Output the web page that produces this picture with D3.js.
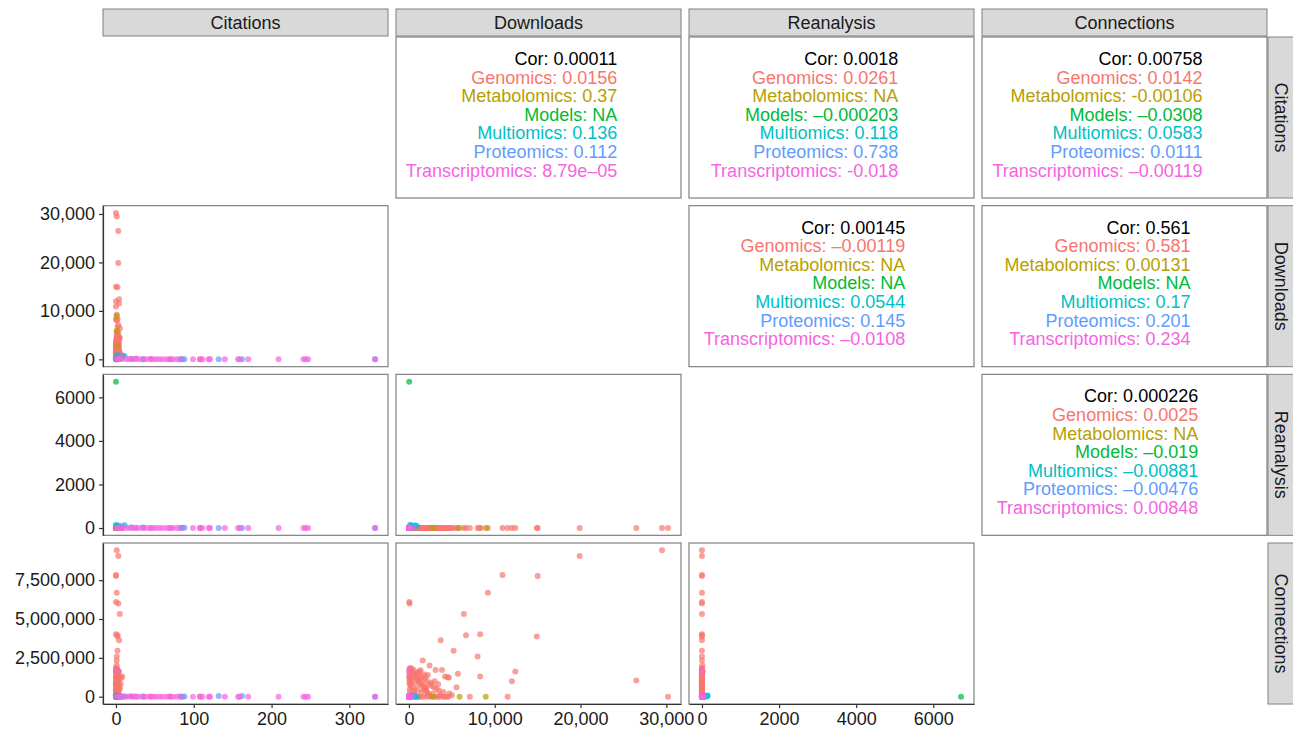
<!DOCTYPE html>
<html>
<head>
<meta charset="utf-8">
<script src="https://cdn.jsdelivr.net/npm/d3@7"></script>
<style>
  body { margin: 0; background: #fff; }
  svg text { font-family: "Liberation Sans", Arial, Helvetica, sans-serif; }
</style>
</head>
<body>
<div id="chart"></div>
<script>
// variables shown in the matrix
const variables = ['Citations', 'Downloads', 'Reanalysis', 'Connections'];
const groups = ['Genomics', 'Metabolomics', 'Models', 'Multiomics', 'Proteomics', 'Transcriptomics'];
const groupColors = ['#F8766D', '#B79F00', '#00BA38', '#00BFC4', '#619CFF', '#F564E3'];

// each record: [citations, downloads, reanalysis, connections]
const genomics = [
  [0, 30200, 0, 0], [1, 29500, 0, 9420000], [3, 26500, 0, 1050000], [3, 19900, 0, 9060000],
  [0, 15000, 0, 7760000], [2, 14900, 0, 3870000], [4, 12400, 0, 1620000], [4, 11500, 0, 0],
  [0, 10900, 0, 7840000], [1, 9200, 0, 6690000], [0, 8300, 0, 4020000], [2, 8300, 0, 1300000],
  [1, 8000, 0, 2580000], [3, 7100, 0, 0], [2, 6650, 0, 3950000], [5, 6400, 0, 5320000],
  [1, 5700, 0, 1470000], [3, 5550, 0, 600000], [2, 5200, 0, 2950000], [1, 4650, 0, 1240000],
  [4, 3700, 0, 3630000], [2, 3850, 0, 1710000], [0, 3100, 0, 1710000], [0, 40, 0, 6090000],
  [3, 60, 0, 6000000], [1, 1600, 0, 2330000], [0, 200, 0, 1850000], [1, 500, 0, 1750000],
  [2, 900, 0, 1500000], [0, 1300, 0, 1300000], [1, 1800, 0, 1100000], [2, 2200, 0, 1400000],
  [3, 2600, 0, 900000], [1, 3000, 0, 1000000], [0, 3400, 0, 800000], [2, 4200, 0, 1300000],
  [4, 4500, 0, 1250000], [1, 1000, 0, 700000], [0, 600, 0, 400000], [2, 1500, 0, 300000],
  [3, 2000, 0, 500000], [1, 2800, 0, 200000], [0, 3600, 0, 100000], [5, 4400, 0, 0],
  [2, 3900, 0, 0], [1, 3300, 0, 0], [0, 2500, 0, 0], [3, 1700, 0, 0], [6, 1200, 0, 0],
  [8, 800, 0, 0], [4, 300, 0, 0], [7, 100, 0, 1200000], [3, 700, 0, 1000000],
  [0, 1900, 0, 600000], [25, 50, 0, 20000], [69, 30, 0, 10000], [108, 20, 0, 5000],
  [45, 80, 0, 15000], [1, 2400, 10, 2000000], [2, 1100, 20, 1600000], [0, 12000, 0, 1000000],
  [0, 150, 0, 1780000], [1, 350, 0, 1650000], [0, 450, 0, 1550000], [2, 650, 0, 1450000],
  [1, 750, 0, 1350000], [0, 850, 0, 1250000], [3, 950, 0, 1150000], [1, 1150, 0, 1050000],
  [2, 1250, 0, 950000], [0, 1400, 0, 850000], [1, 1550, 0, 750000], [4, 1650, 0, 650000],
  [2, 1750, 0, 550000], [0, 1850, 0, 450000], [1, 2050, 0, 350000], [3, 2150, 0, 250000],
  [0, 2300, 0, 150000], [2, 2450, 0, 50000], [1, 250, 0, 1250000], [0, 350, 0, 900000],
  [2, 450, 0, 600000], [1, 550, 0, 300000], [0, 700, 0, 100000], [3, 1050, 0, 400000],
  [1, 1200, 0, 1600000], [2, 1350, 0, 1700000], [0, 1450, 0, 1200000], [1, 1700, 0, 1450000],
  [3, 1950, 0, 1300000], [2, 2100, 0, 1000000], [0, 2350, 0, 800000], [1, 2600, 0, 700000],
  [4, 2900, 0, 600000], [2, 3200, 0, 500000], [1, 3500, 0, 400000], [0, 4000, 0, 300000],
  [3, 4700, 0, 200000], [1, 5000, 0, 100000], [5, 100, 0, 500000], [6, 150, 0, 800000],
  [2, 50, 0, 1100000], [1, 80, 0, 1400000], [0, 120, 0, 300000], [3, 180, 0, 700000],
  [8, 400, 0, 1300000], [2, 4100, 0, 0], [1, 4600, 0, 0], [3, 3500, 0, 0], [0, 2900, 0, 0],
  [4, 2100, 0, 0], [2, 1400, 0, 0], [1, 950, 0, 0], [0, 600, 0, 0], [5, 150, 0, 0],
  [1, 50, 0, 1800000], [0, 30, 0, 1600000], [1, 20, 0, 1300000], [2, 40, 0, 900000]
];
const metabolomics = [[1, 8950, 0, 0], [1, 5900, 0, 0], [3, 200, 0, 0], [2, 2800, 0, 0]];
const models = [[0, 30, 6720, 0], [1, 80, 30, 0], [0, 150, 50, 10000]];
const multiomics = [
  [11, 700, 130, 15000], [4, 300, 100, 60000], [2, 900, 90, 20000],
  [35, 40, 20, 5000], [85, 20, 10, 3000], [0, 150, 150, 80000]
];
const proteomics = [
  [82, 10, 5, 10000], [88, 30, 10, 20000], [132, 5, 0, 45000], [162, 10, 0, 40000],
  [333, 0, 0, 0], [20, 100, 30, 30000], [6, 600, 80, 50000]
];
const transcriptomics = [
  [0, 50, 0, 0], [2, 60, 10, 1650000], [4, 100, 0, 20000], [8, 200, 5, 10000], [13, 30, 0, 0],
  [17, 80, 0, 5000], [21, 20, 0, 0], [26, 150, 10, 0], [30, 10, 0, 0], [35, 40, 0, 0],
  [39, 0, 0, 0], [44, 60, 0, 0], [48, 20, 0, 0], [52, 0, 0, 0], [56, 30, 0, 0],
  [60, 10, 0, 0], [65, 0, 0, 0], [70, 20, 0, 0], [73, 0, 0, 0], [78, 10, 0, 0],
  [84, 0, 0, 0], [99, 0, 0, 0], [108, 10, 0, 0], [111, 0, 0, 0], [119, 0, 0, 0],
  [121, 0, 0, 0], [140, 0, 0, 0], [157, 0, 0, 0], [159, 0, 0, 0], [170, 0, 0, 0],
  [209, 0, 0, 0], [241, 0, 0, 0], [244, 0, 0, 0], [247, 0, 0, 0], [333, 0, 0, 0]
];
const seriesData = [genomics, metabolomics, models, multiomics, proteomics, transcriptomics];

// tick values for each variable
const ticksCitations = [0, 100, 200, 300];
const ticksDownloads = [0, 10000, 20000, 30000];
const ticksReanalysis = [0, 2000, 4000, 6000];
const ticksConnections = [0, 2500000, 5000000, 7500000];
const tickSets = [ticksCitations, ticksDownloads, ticksReanalysis, ticksConnections];
const tickComma = [false, true, false, true];

// correlation panels (upper triangle), group values in the order of `groups`
const corPanels = [
  { row: 0, col: 1, cor: '0.00011', vals: ['0.0156', '0.37', 'NA', '0.136', '0.112', '8.79e–05'] },
  { row: 0, col: 2, cor: '0.0018', vals: ['0.0261', 'NA', '–0.000203', '0.118', '0.738', '-0.018'] },
  { row: 0, col: 3, cor: '0.00758', vals: ['0.0142', '-0.00106', '–0.0308', '0.0583', '0.0111', '–0.00119'] },
  { row: 1, col: 2, cor: '0.00145', vals: ['–0.00119', 'NA', 'NA', '0.0544', '0.145', '–0.0108'] },
  { row: 1, col: 3, cor: '0.561', vals: ['0.581', '0.00131', 'NA', '0.17', '0.201', '0.234'] },
  { row: 2, col: 3, cor: '0.000226', vals: ['0.0025', 'NA', '–0.019', '–0.00881', '–0.00476', '0.00848'] }
];

const width = 1293, height = 733;
const panelLeft = 103, panelTop = 37, pw = 285, ph = 161, gx = 8, gy = 7.67;
const fontSize = 18;

const svg = d3.select('#chart').append('svg')
  .attr('width', width)
  .attr('height', height);

const px = c => panelLeft + c * (pw + gx);
const py = r => panelTop + r * (ph + gy);

// scales with ggplot-like 5% expansion
const allRecords = seriesData.flat();
const xScales = variables.map((v, i) => {
  const ext = d3.extent(allRecords, d => d[i]);
  const pad = (ext[1] - ext[0]) * 0.05;
  return d3.scaleLinear().domain([ext[0] - pad, ext[1] + pad]).range([0, pw]);
});
const yScales = variables.map((v, i) => {
  const ext = d3.extent(allRecords, d => d[i]);
  const pad = (ext[1] - ext[0]) * 0.05;
  return d3.scaleLinear().domain([ext[0] - pad, ext[1] + pad]).range([ph, 0]);
});

const fmtComma = d3.format(',');
const fmtPlain = d3.format('d');

// top strips
variables.forEach((v, c) => {
  const g = svg.append('g').attr('transform', `translate(${px(c)},9)`);
  g.append('rect').attr('width', pw).attr('height', 27)
    .attr('fill', '#D9D9D9').attr('stroke', '#808080').attr('stroke-width', 1);
  g.append('text').attr('x', pw / 2).attr('y', 13.5).attr('dy', '0.35em')
    .attr('text-anchor', 'middle').attr('font-size', fontSize).attr('fill', '#1a1a1a').text(v);
});

// right strips
const stripX = px(3) + pw + 1;
variables.forEach((v, r) => {
  const g = svg.append('g').attr('transform', `translate(${stripX},${py(r)})`);
  g.append('rect').attr('width', 27).attr('height', ph)
    .attr('fill', '#D9D9D9').attr('stroke', '#808080').attr('stroke-width', 1);
  g.append('text').attr('transform', `translate(13.5,${ph / 2}) rotate(90)`)
    .attr('dy', '0.35em').attr('text-anchor', 'middle')
    .attr('font-size', fontSize).attr('fill', '#1a1a1a').text(v);
});

// lower triangle: scatter plots
for (let r = 0; r < 4; r++) {
  for (let c = 0; c < r; c++) {
    const g = svg.append('g').attr('transform', `translate(${px(c)},${py(r)})`);
    g.append('rect').attr('width', pw).attr('height', ph).attr('fill', '#fff');
    seriesData.forEach((series, k) => {
      g.selectAll(null).data(series).join('circle')
        .attr('cx', d => xScales[c](d[c]))
        .attr('cy', d => yScales[r](d[r]))
        .attr('r', 3)
        .attr('fill', groupColors[k])
        .attr('fill-opacity', 0.7);
    });
    g.append('rect').attr('width', pw).attr('height', ph)
      .attr('fill', 'none').attr('stroke', '#808080').attr('stroke-width', 1.2);
  }
}

// upper triangle: correlation text
corPanels.forEach(p => {
  const g = svg.append('g').attr('transform', `translate(${px(p.col)},${py(p.row)})`);
  g.append('rect').attr('width', pw).attr('height', ph)
    .attr('fill', '#fff').attr('stroke', '#808080').attr('stroke-width', 1.2);
  const lines = [{ t: `Cor: ${p.cor}`, col: '#000' }]
    .concat(groups.map((gname, i) => ({ t: `${gname}: ${p.vals[i]}`, col: groupColors[i] })));
  const lh = 18.6;
  const firstY = ph / 2 - 3 - 3 * lh;
  const texts = g.selectAll(null).data(lines).join('text')
    .attr('y', (d, i) => firstY + i * lh)
    .attr('dy', '0.35em')
    .attr('text-anchor', 'end')
    .attr('font-size', fontSize)
    .attr('fill', d => d.col)
    .text(d => d.t);
  let maxW = 0;
  texts.each(function () { maxW = Math.max(maxW, this.getComputedTextLength()); });
  texts.attr('x', pw / 2 + maxW / 2 - 27);
});

// axes: left on first column (rows 2-4), bottom on last row (cols 1-3)
function styleAxis(g) {
  g.selectAll('.domain').attr('stroke', '#333').attr('stroke-width', 1.2);
  g.selectAll('.tick line').attr('stroke', '#333').attr('stroke-width', 1.2);
  g.selectAll('.tick text').attr('font-size', fontSize).attr('fill', '#1a1a1a')
    .attr('font-family', '"Liberation Sans", Arial, Helvetica, sans-serif');
}
for (let r = 1; r < 4; r++) {
  const ax = d3.axisLeft(yScales[r]).tickValues(tickSets[r]).tickSize(4).tickSizeOuter(0)
    .tickPadding(4).tickFormat(tickComma[r] ? fmtComma : fmtPlain);
  svg.append('g').attr('transform', `translate(${px(0)},${py(r)})`).call(ax).call(styleAxis);
}
for (let c = 0; c < 3; c++) {
  const ax = d3.axisBottom(xScales[c]).tickValues(tickSets[c]).tickSize(4).tickSizeOuter(0)
    .tickPadding(4).tickFormat(tickComma[c] ? fmtComma : fmtPlain);
  svg.append('g').attr('transform', `translate(${px(c)},${py(3) + ph})`).call(ax).call(styleAxis);
}
</script>
</body>
</html>
